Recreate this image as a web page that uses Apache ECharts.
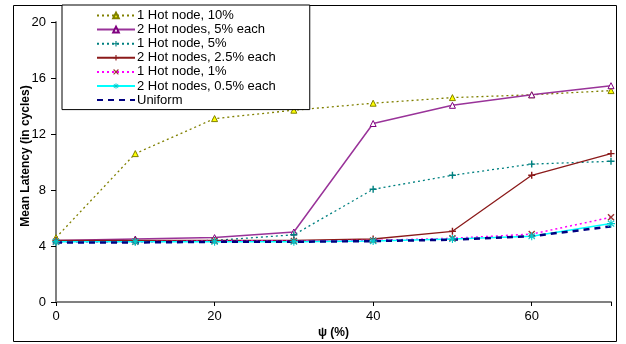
<!DOCTYPE html>
<html><head><meta charset="utf-8">
<script src="https://cdn.jsdelivr.net/npm/echarts@6/dist/echarts.min.js"></script>
<style>html,body{margin:0;padding:0;background:#fff}#c{width:626px;height:344px}</style>
</head><body><div id="c"></div>
<script>
const xValues = [0, 10, 20, 30, 40, 50, 60, 70];
const yTicks = [0, 4, 8, 12, 16, 20];
const xTicks = [0, 20, 40, 60];
const hot1_10 = [4.6, 10.6, 13.1, 13.7, 14.2, 14.6, 14.8, 15.1];
const hot2_5 = [4.4, 4.5, 4.6, 5.0, 12.75, 14.05, 14.8, 15.45];
const hot1_5 = [4.3, 4.3, 4.4, 4.8, 8.05, 9.05, 9.85, 10.05];
const hot2_25 = [4.4, 4.4, 4.4, 4.4, 4.5, 5.05, 9.05, 10.6];
const hot1_1 = [4.3, 4.3, 4.35, 4.35, 4.4, 4.55, 4.85, 6.05];
const hot2_05 = [4.3, 4.3, 4.3, 4.3, 4.35, 4.5, 4.7, 5.6];
const uniform = [4.25, 4.25, 4.3, 4.3, 4.35, 4.45, 4.7, 5.4];
const names = ['1 Hot node, 10%', '2 Hot nodes, 5% each', '1 Hot node, 5%', '2 Hot nodes, 2.5% each', '1 Hot node, 1%', '2 Hot nodes, 0.5% each', 'Uniform'];

const pair = arr => xValues.map((x, i) => [x, arr[i]]);
const PLUS = 'path://M4,0H6V4H10V6H6V10H4V6H0V4H4Z';
const CROSS = 'path://M1.4,0L5,3.6L8.6,0L10,1.4L6.4,5L10,8.6L8.6,10L5,6.4L1.4,10L0,8.6L3.6,5L0,1.4Z';
const STAR = 'path://M4.3,0H5.7V3.3L8.6,0.9L9.4,2L6.3,4.3H10V5.7H6.3L9.4,8L8.6,9.1L5.7,6.7V10H4.3V6.7L1.4,9.1L0.6,8L3.7,5.7H0V4.3H3.7L0.6,2L1.4,0.9L4.3,3.3Z';

function mk(name, data, color, lineType, width, symbol, symColor, symBorder, size) {
  return {
    name, type: 'line', data: pair(data), symbol: symbol, symbolSize: size,
    showSymbol: symbol !== 'none',
    lineStyle: { color: color, type: lineType, width: width },
    itemStyle: { color: symColor, borderColor: symBorder, borderWidth: symBorder ? 1 : 0 },
    emphasis: { disabled: true }, animation: false, z: 2
  };
}

const chart = echarts.init(document.getElementById('c'));
chart.setOption({
  animation: false,
  textStyle: { fontFamily: 'Liberation Sans, Arial, sans-serif' },
  grid: { left: 56, right: 15, top: 22, bottom: 34 },
  graphic: [{ type: 'rect', shape: { x: 13.5, y: 5.5, width: 603, height: 336 }, style: { fill: 'none', stroke: '#000', lineWidth: 1 }, z: 0 }],
  legend: {
    orient: 'vertical', left: 62, top: 5,
    padding: [4, 34, 3, 34],
    borderColor: '#000', borderWidth: 1, backgroundColor: '#fff',
    itemWidth: 38, itemHeight: 7, itemGap: 1.1,
    textStyle: { fontSize: 13, lineHeight: 13, color: '#000', fontFamily: 'Liberation Sans, Arial, sans-serif', padding: [0, 0, 0, -3] },
    data: names.map(n => n === 'Uniform' ? { name: n, itemStyle: { opacity: 0 } } : n), z: 10
  },
  xAxis: {
    type: 'value', min: 0, max: 70, interval: 20,
    name: 'ψ (%)', nameLocation: 'middle', nameGap: 25, nameMoveOverlap: false,
    nameTextStyle: { fontSize: 12, fontWeight: 'bold', color: '#000' },
    axisLine: { show: true, lineStyle: { color: '#808080', width: 2 } },
    axisTick: { show: true, length: 4, lineStyle: { color: '#000' } },
    axisLabel: { fontSize: 13, color: '#000', margin: 8, formatter: v => (xTicks.indexOf(v) >= 0 ? String(v) : '') },
    splitLine: { show: false }
  },
  yAxis: {
    type: 'value', min: 0, max: 20, interval: 4,
    name: 'Mean Latency (in cycles)', nameLocation: 'middle', nameGap: 24, nameMoveOverlap: false,
    nameTextStyle: { fontSize: 12, fontWeight: 'bold', color: '#000', padding: [0, 0, 0, 12] },
    axisLine: { show: true, lineStyle: { color: '#808080', width: 2 } },
    axisTick: { show: true, length: 5, lineStyle: { color: '#000' } },
    axisLabel: { fontSize: 13, color: '#000', margin: 10 },
    splitLine: { show: false }
  },
  series: [
    mk(names[0], hot1_10, '#808000', [2, 3], 1.3, 'triangle', '#ffff00', '#808000', 6),
    mk(names[1], hot2_5, '#993399', 'solid', 1.5, 'triangle', '#ffffff', '#800080', 6),
    mk(names[2], hot1_5, '#008080', [2, 3], 1.3, PLUS, '#008080', null, 7),
    mk(names[3], hot2_25, '#8b1a1a', 'solid', 1.3, PLUS, '#8b1a1a', null, 7),
    mk(names[4], hot1_1, '#ff00ff', [2, 3], 1.5, CROSS, '#993333', null, 7),
    mk(names[5], hot2_05, '#00ffff', 'solid', 1.5, STAR, '#00cccc', null, 8),
    mk(names[6], uniform, '#000080', [6, 5], 2.5, 'none', '#000080', null, 0)
  ]
});
</script></body></html>
